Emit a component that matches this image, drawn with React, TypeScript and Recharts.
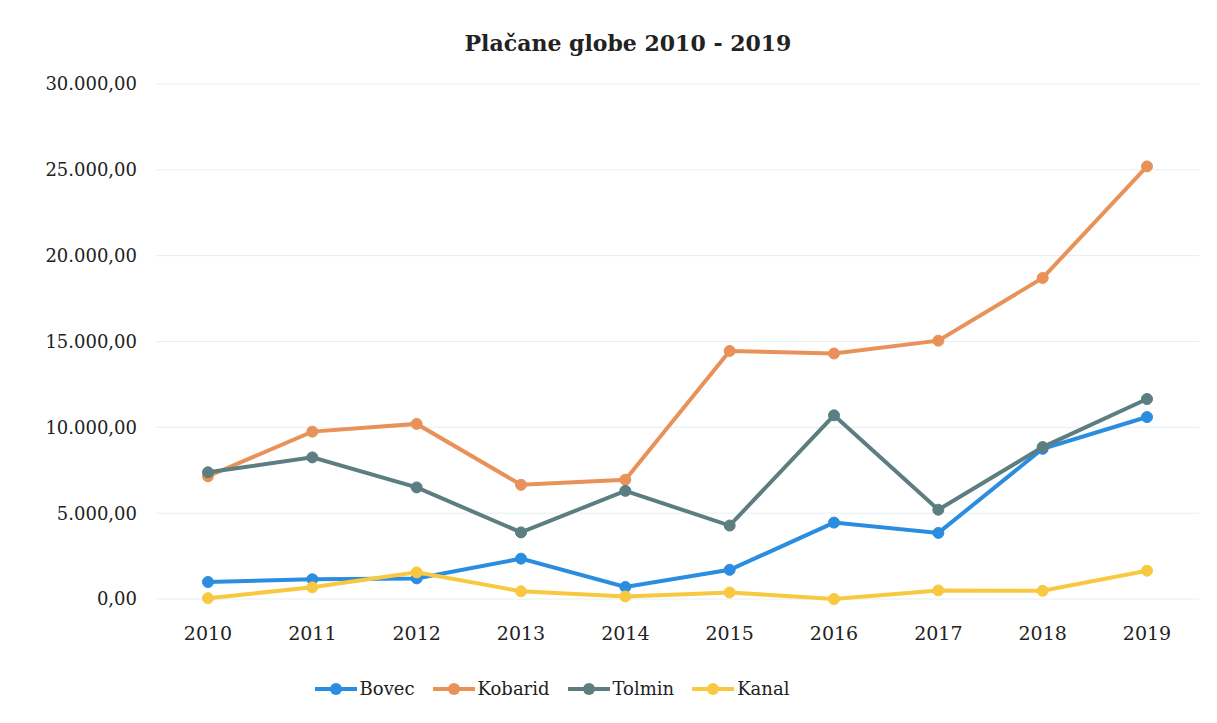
import { LineChart, Line, CartesianGrid, XAxis, YAxis, Legend } from "recharts";

const years = ["2010", "2011", "2012", "2013", "2014", "2015", "2016", "2017", "2018", "2019"];
const bovec = [990, 1150, 1200, 2350, 700, 1700, 4450, 3850, 8750, 10600];
const kobarid = [7150, 9750, 10200, 6650, 6950, 14450, 14300, 15050, 18700, 25200];
const tolmin = [7380, 8250, 6500, 3880, 6300, 4280, 10700, 5200, 8850, 11650];
const kanal = [50, 680, 1550, 450, 150, 380, 0, 500, 480, 1650];
const yTicks = [0, 5000, 10000, 15000, 20000, 25000, 30000];

const seriesList = [
  { key: "Bovec", color: "#2b8de0" },
  { key: "Kobarid", color: "#e8925a" },
  { key: "Tolmin", color: "#5c7e80" },
  { key: "Kanal", color: "#f8c940" },
];

const data = years.map((year, i) => ({
  year,
  Bovec: bovec[i],
  Kobarid: kobarid[i],
  Tolmin: tolmin[i],
  Kanal: kanal[i],
}));

const fmt = (v: number) =>
  String(v).replace(/\B(?=(\d{3})+(?!\d))/g, ".") + ",00";

const font = "'DejaVu Serif', serif";

const LegendContent = () => (
  <div style={{ display: "flex", justifyContent: "center", gap: 18, fontFamily: font, fontSize: 18, color: "#222", paddingRight: 103, paddingTop: 10 }}>
    {seriesList.map((s) => (
      <div key={s.key} style={{ display: "flex", alignItems: "center", gap: 3 }}>
        <svg width={42} height={14}>
          <line x1={0} y1={7} x2={42} y2={7} stroke={s.color} strokeWidth={4} />
          <circle cx={21} cy={7} r={6} fill={s.color} />
        </svg>
        <span>{s.key}</span>
      </div>
    ))}
  </div>
);

export default function App() {
  return (
    <div style={{ width: 1200, height: 715, background: "#fff", position: "relative" }}>
      <div
        style={{
          position: "absolute",
          top: 22,
          left: 0,
          width: 1240,
          textAlign: "center",
          fontFamily: font,
          fontWeight: "bold",
          fontSize: 22,
          color: "#222",
        }}
      >
        Plačane globe 2010 - 2019
      </div>
      <LineChart width={1200} height={715} data={data} margin={{ top: 76, right: 9, left: 0, bottom: 15 }}>
        <CartesianGrid horizontal vertical={false} stroke="#e6eef0" />
        <XAxis
          dataKey="year"
          axisLine={false}
          tickLine={false}
          tickMargin={22}
          height={69}
          padding={{ left: 52, right: 52 }}
          tick={{ fontFamily: font, fontSize: 19, fill: "#222" }}
        />
        <YAxis
          domain={[0, 30000]}
          ticks={yTicks}
          tickFormatter={fmt}
          axisLine={false}
          tickLine={false}
          tickSize={0}
          width={148}
          tickMargin={19}
          tick={{ fontFamily: font, fontSize: 18, fill: "#222" }}
        />
        <Legend verticalAlign="bottom" height={40} content={<LegendContent />} />
        {seriesList.map((s) => (
          <Line
            key={s.key}
            type="linear"
            dataKey={s.key}
            stroke={s.color}
            strokeWidth={4}
            dot={{ r: 5.5, fill: s.color, stroke: s.color, strokeWidth: 1 }}
            isAnimationActive={false}
          />
        ))}
      </LineChart>
    </div>
  );
}
